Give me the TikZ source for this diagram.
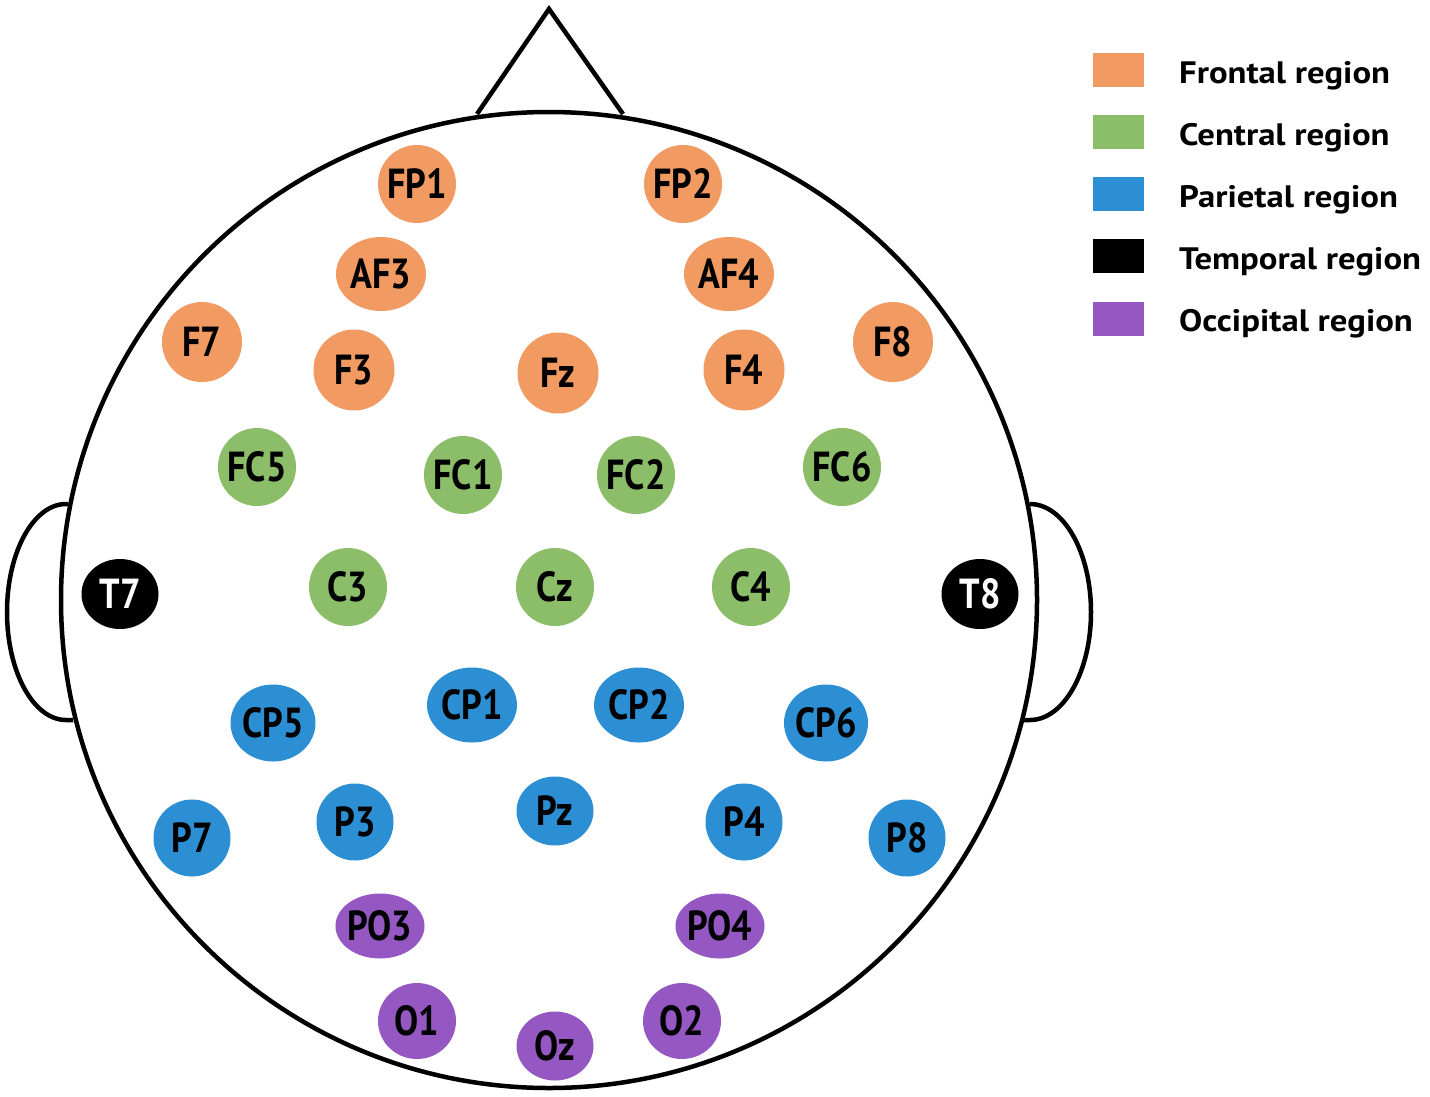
\documentclass[tikz,border=0pt]{standalone}
\usepackage{fontspec}
\setmainfont{PT Sans}
\newfontfamily\elfam[FakeStretch=0.86]{PT Sans}
\newfontfamily\legfam[FakeStretch=1.12]{PT Sans}
\usetikzlibrary{shapes.geometric}
\definecolor{cfront}{HTML}{F19A62}
\definecolor{ccent}{HTML}{8CBD68}
\definecolor{cpari}{HTML}{2D8FD3}
\definecolor{ctemp}{HTML}{000000}
\definecolor{cocci}{HTML}{9558C3}
\newcommand{\lbl}[1]{\smash{\makebox[0pt]{\raisebox{-0.35em}{#1}}}}
\begin{document}
\begin{tikzpicture}[x=1pt,y=-1pt,
  outline/.style={line width=4.5pt, black},
  elec/.style={ellipse, inner sep=0pt, minimum width=78pt, minimum height=78pt,
    font=\elfam\bfseries\fontsize{42}{42}\selectfont, text=black},
  wide/.style={minimum width=90pt, minimum height=74pt},
  front/.style={elec, fill=cfront},
  cent/.style={elec, fill=ccent},
  pari/.style={elec, fill=cpari},
  temp/.style={elec, fill=ctemp, text=white, minimum width=77pt, minimum height=70pt},
  occi/.style={elec, fill=cocci},
  legbox/.style={rectangle, inner sep=0pt, minimum width=51pt, minimum height=34pt},
  legtext/.style={anchor=base west, inner sep=0pt, font=\legfam\bfseries\fontsize{31}{31}\selectfont}
]
\useasboundingbox (0,0) rectangle (1430,1096);
\fill[white] (0,0) rectangle (1430,1096);

% head
\coordinate (c) at (549,600);
\coordinate (nl) at (477,114);
\coordinate (nt) at (549,9);
\coordinate (nr) at (623,114);
\draw[outline] (68,504) -- (66,504) .. controls (33.4,504) and (7,552.4) .. (7,612)
  .. controls (7,671.6) and (33.4,720) .. (66,720) -- (73,720);
\draw[outline] (1030,504) .. controls (1063.7,504) and (1091,552.4) .. (1091,612)
  .. controls (1091,671.6) and (1063.7,720) .. (1030,720) -- (1024,720);
\draw[outline, line join=miter] (nl) -- (nt) -- (nr);
\draw[outline] (c) circle[radius=488];

% frontal
\node[front] (FP1) at (417,184) {\lbl{FP1}};
\node[front] (FP2) at (683,184) {\lbl{FP2}};
\node[front, wide] (AF3) at (381,274) {\lbl{AF3}};
\node[front, wide] (AF4) at (729,274) {\lbl{AF4}};
\node[front, minimum width=80pt, minimum height=80pt] (F7) at (202,342) {\lbl{F7}};
\node[front, minimum width=81pt, minimum height=81pt] (F3) at (354,370) {\lbl{F3}};
\node[front, minimum width=81pt, minimum height=81pt] (Fz) at (558,373) {\lbl{Fz}};
\node[front, minimum width=81pt, minimum height=81pt] (F4) at (744,370) {\lbl{F4}};
\node[front, minimum width=80pt, minimum height=80pt] (F8) at (893,342) {\lbl{F8}};

% central
\node[cent] (FC5) at (257,467) {\lbl{FC5}};
\node[cent] (FC1) at (463,475) {\lbl{FC1}};
\node[cent] (FC2) at (636,475) {\lbl{FC2}};
\node[cent] (FC6) at (842,467) {\lbl{FC6}};
\node[cent] (C3) at (348,587) {\lbl{C3}};
\node[cent] (Cz) at (555,587) {\lbl{Cz}};
\node[cent] (C4) at (751,587) {\lbl{C4}};

% temporal
\node[temp] (T7) at (120,594) {\lbl{T7}};
\node[temp] (T8) at (980,594) {\lbl{T8}};

% parietal
\node[pari, minimum width=85pt, minimum height=77pt] (CP5) at (273,723) {\lbl{CP5}};
\node[pari, wide, minimum height=75pt] (CP1) at (472,705) {\lbl{CP1}};
\node[pari, wide, minimum height=75pt] (CP2) at (639,705) {\lbl{CP2}};
\node[pari, minimum width=84pt, minimum height=77pt] (CP6) at (826,723) {\lbl{CP6}};
\node[pari, minimum width=77pt, minimum height=77pt] (P7) at (192,838) {\lbl{P7}};
\node[pari, minimum width=77pt, minimum height=77pt] (P3) at (355,822) {\lbl{P3}};
\node[pari, minimum width=77pt, minimum height=69pt] (Pz) at (555,811) {\lbl{Pz}};
\node[pari, minimum width=77pt, minimum height=77pt] (P4) at (744,822) {\lbl{P4}};
\node[pari, minimum width=77pt, minimum height=77pt] (P8) at (907,838) {\lbl{P8}};

% occipital
\node[occi, minimum width=89pt, minimum height=65pt] (PO3) at (380,926) {\lbl{PO3}};
\node[occi, minimum width=89pt, minimum height=65pt] (PO4) at (720,926) {\lbl{PO4}};
\node[occi, minimum width=78pt, minimum height=76pt] (O1) at (417,1021) {\lbl{O1}};
\node[occi, minimum width=78pt, minimum height=76pt] (O2) at (682,1021) {\lbl{O2}};
\node[occi, minimum width=77pt, minimum height=69pt] (Oz) at (555,1046) {\lbl{Oz}};

% legend
\node[legbox, fill=cfront] (Lf) at (1118.5,70) {};
\node[legbox, fill=ccent] (Lc) at (1118.5,132) {};
\node[legbox, fill=cpari] (Lp) at (1118.5,194) {};
\node[legbox, fill=ctemp] (Lt) at (1118.5,256) {};
\node[legbox, fill=cocci] (Lo) at (1118.5,319) {};
\node[legtext] (Lft) at (1179,83) {Frontal region};
\node[legtext] (Lct) at (1179,145) {Central region};
\node[legtext] (Lpt) at (1179,207) {Parietal region};
\node[legtext] (Ltt) at (1179,269) {Temporal region};
\node[legtext] (Lot) at (1179,331) {Occipital region};
\end{tikzpicture}
\end{document}
